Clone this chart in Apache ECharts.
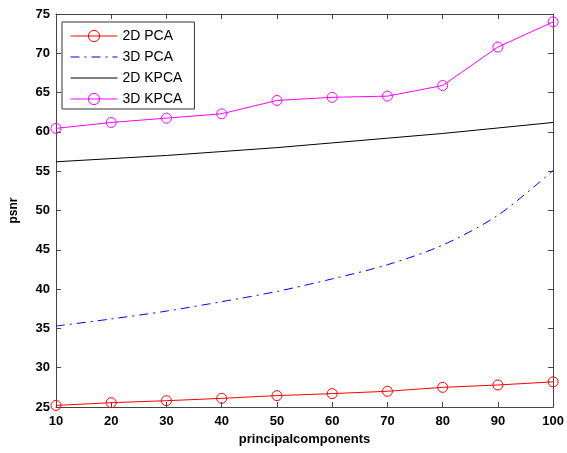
<!DOCTYPE html>
<html><head><meta charset="utf-8">
<script src="https://cdn.jsdelivr.net/npm/echarts@6/dist/echarts.min.js"></script>
<style>html,body{margin:0;padding:0;background:#fff}#c{width:567px;height:453px}</style>
</head><body><div id="c"></div>
<script>
var xValues = [10, 20, 30, 40, 50, 60, 70, 80, 90, 100];
var pca2d = [25.2, 25.55, 25.8, 26.1, 26.45, 26.7, 27.0, 27.5, 27.8, 28.2];
var pca3d = [35.3, 36.2, 37.2, 38.4, 39.7, 41.3, 43.1, 45.6, 49.4, 55.1];
var kpca2d = [56.2, 56.6, 57.0, 57.5, 58.0, 58.6, 59.2, 59.8, 60.5, 61.2];
var kpca3d = [60.45, 61.2, 61.75, 62.3, 64.0, 64.4, 64.55, 65.9, 70.8, 74.0];
var seriesNames = ['2D PCA', '3D PCA', '2D KPCA', '3D KPCA'];
var xTitle = 'principalcomponents';
var yTitle = 'psnr';

function pairs(arr){ return xValues.map(function(x,i){ return [x, arr[i]]; }); }
var axisCol = '#444';
var hidden = {opacity: 0};
var chart = echarts.init(document.getElementById('c'));
chart.setOption({
  animation: false,
  backgroundColor: '#fff',
  grid: {left: 54, right: 12, top: 14, bottom: 46, containLabel: false},
  legend: {
    orient: 'vertical', left: 62, top: 22,
    backgroundColor: '#fff', borderColor: '#333', borderWidth: 1,
    padding: [7, 12, 3, 8], itemGap: 7, itemWidth: 47, itemHeight: 14,
    lineStyle: {width: 1},
    itemStyle: {borderWidth: 1},
    textStyle: {fontFamily: 'Liberation Sans, Arial', fontSize: 14, color: '#000'},
    data: [
      {name: seriesNames[0]},
      {name: seriesNames[1], itemStyle: hidden},
      {name: seriesNames[2], itemStyle: hidden},
      {name: seriesNames[3]}
    ]
  },
  xAxis: [{
    type: 'value', min: 10, max: 100, interval: 10,
    name: xTitle, nameLocation: 'middle', nameGap: 25,
    nameTextStyle: {fontFamily: 'Liberation Sans, Arial', fontWeight: 'bold', fontSize: 13, color: '#000'},
    axisLine: {lineStyle: {color: axisCol, width: 1}},
    axisTick: {inside: true, length: 5, lineStyle: {color: axisCol}},
    axisLabel: {fontFamily: 'Liberation Sans, Arial', fontWeight: 'bold', fontSize: 13, color: '#000', margin: 8},
    splitLine: {show: false}
  }, {
    type: 'value', position: 'top', min: 10, max: 100, interval: 10,
    axisLine: {show: true, onZero: false, lineStyle: {color: axisCol, width: 1}},
    axisTick: {inside: true, length: 5, lineStyle: {color: axisCol}},
    axisLabel: {show: false}, splitLine: {show: false}
  }],
  yAxis: [{
    type: 'value', min: 25, max: 75, interval: 5,
    name: yTitle, nameLocation: 'middle', nameGap: 36, nameRotate: 90,
    nameTextStyle: {fontFamily: 'Liberation Sans, Arial', fontWeight: 'bold', fontSize: 12, color: '#000'},
    axisLine: {show: true, lineStyle: {color: axisCol, width: 1}},
    axisTick: {show: true, inside: true, length: 5, lineStyle: {color: axisCol}},
    axisLabel: {fontFamily: 'Liberation Sans, Arial', fontWeight: 'bold', fontSize: 13, color: '#000', margin: 6},
    splitLine: {show: false}
  }, {
    type: 'value', position: 'right', min: 25, max: 75, interval: 5,
    axisLine: {show: true, onZero: false, lineStyle: {color: axisCol, width: 1}},
    axisTick: {show: true, inside: true, length: 5, lineStyle: {color: axisCol}},
    axisLabel: {show: false}, splitLine: {show: false}
  }],
  series: [
    {name: seriesNames[0], type: 'line', data: pairs(pca2d), symbol: 'circle', symbolSize: 10,
     color: '#ff0000', lineStyle: {width: 1, color: '#ff0000'},
     itemStyle: {color: 'rgba(255,255,255,0)', borderColor: '#ff0000', borderWidth: 1}},
    {name: seriesNames[1], type: 'line', data: pairs(pca3d), symbol: 'none', smooth: 0.3,
     color: '#0000ff', lineStyle: {width: 1, color: '#0000ff', type: [9, 5, 2, 5]}},
    {name: seriesNames[2], type: 'line', data: pairs(kpca2d), symbol: 'none',
     color: '#000000', lineStyle: {width: 1, color: '#000000'}},
    {name: seriesNames[3], type: 'line', data: pairs(kpca3d), symbol: 'circle', symbolSize: 10,
     color: '#ff00ff', lineStyle: {width: 1, color: '#ff00ff'},
     itemStyle: {color: 'rgba(255,255,255,0)', borderColor: '#ff00ff', borderWidth: 1}}
  ]
});
</script></body></html>
